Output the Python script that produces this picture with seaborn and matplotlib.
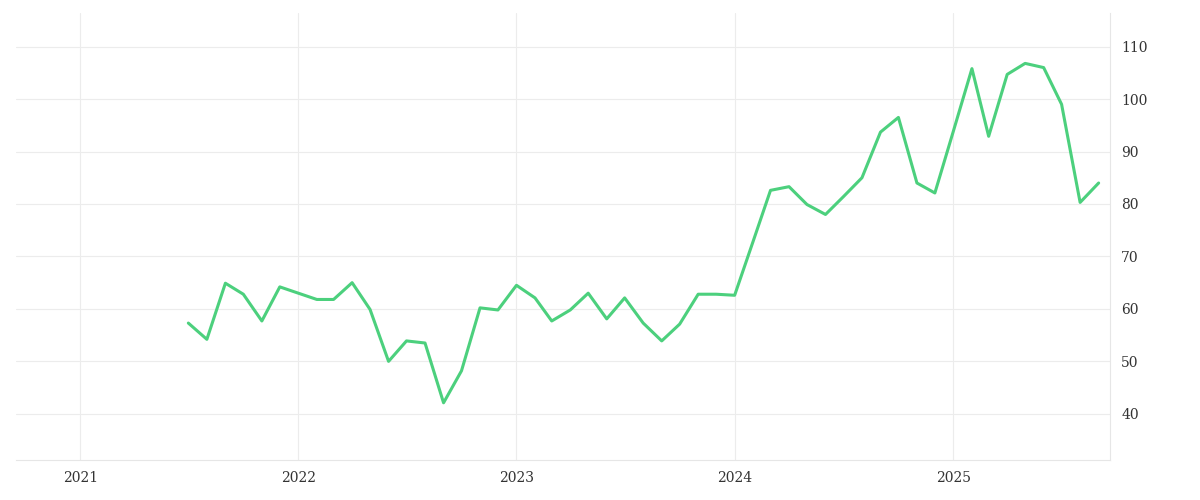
import numpy as np
import pandas as pd
import seaborn as sns
import matplotlib.pyplot as plt
import matplotlib.dates as mdates

months = pd.date_range("2021-07-01", "2025-09-01", freq="MS")
values = [57.3, 54.2, 64.9, 62.8, 57.7, 64.2, 63.0, 61.8, 61.8, 65.0, 59.9, 50.0,
          53.9, 53.5, 42.1, 48.2, 60.2, 59.8, 64.5, 62.1, 57.7, 59.8, 63.0, 58.1,
          62.1, 57.3, 53.9, 57.1, 62.8, 62.8, 62.6, 72.9, 82.6, 83.3, 79.9, 78.0,
          81.4, 85.0, 93.7, 96.5, 84.0, 82.1, 93.9, 105.8, 92.9, 104.7, 106.8, 106.0,
          99.0, 80.3, 84.0]

df = pd.DataFrame({"date": months, "value": values})

sns.set_style("white")
plt.rcParams['font.family'] = ['DejaVu Serif']
fig, ax = plt.subplots(figsize=(12, 5), dpi=100)
fig.subplots_adjust(left=0.013, right=0.925, top=0.975, bottom=0.08)

sns.lineplot(data=df, x="date", y="value", color="#4cd07d", linewidth=2.2, ax=ax)

ax.set_xlim(pd.Timestamp("2020-09-15"), pd.Timestamp("2025-09-20"))
ax.set_ylim(31.2, 116.5)
ax.yaxis.tick_right()
ax.set_yticks(range(40, 111, 10))
ax.xaxis.set_major_locator(mdates.YearLocator())
ax.xaxis.set_major_formatter(mdates.DateFormatter("%Y"))
ax.grid(True, color="#ececec", linewidth=0.8)
for s in ["top", "left"]:
    ax.spines[s].set_visible(False)
ax.spines["bottom"].set_color("#e6e6e6")
ax.spines["right"].set_color("#e6e6e6")
ax.tick_params(length=0, labelsize=10, colors="#333333", pad=8)
ax.set_xlabel("")
ax.set_ylabel("")
plt.savefig("out.png")
